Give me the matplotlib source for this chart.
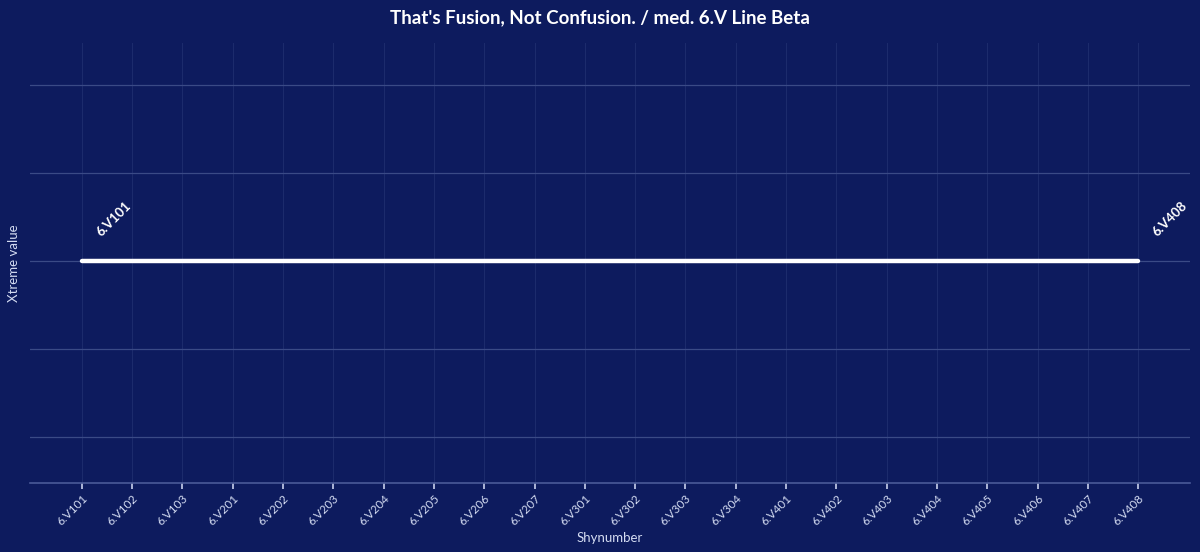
import matplotlib
matplotlib.use("Agg")
import matplotlib.pyplot as plt

categories = ["6.V101", "6.V102", "6.V103", "6.V201", "6.V202", "6.V203", "6.V204",
              "6.V205", "6.V206", "6.V207", "6.V301", "6.V302", "6.V303", "6.V304",
              "6.V401", "6.V402", "6.V403", "6.V404", "6.V405", "6.V406", "6.V407",
              "6.V408"]
values = [0.0] * len(categories)
y_ticks = [-2, -1, 0, 1, 2]

BG = "#0d1b5e"
plt.rcParams['font.family'] = ['Lato', 'DejaVu Sans']

fig = plt.figure(figsize=(12, 5.52), dpi=100, facecolor=BG)
ax = fig.add_axes([0.025, 0.125, 0.9667, 0.797])
ax.set_facecolor(BG)

x = list(range(len(categories)))
ax.plot(x, values, color="white", lw=3.2, solid_capstyle="round", zorder=5)

for i in (0, len(categories) - 1):
    ax.annotate(categories[i], (x[i], values[i]), xytext=(15, 16), textcoords="offset points",
                rotation=45, rotation_mode="anchor", ha="left", va="bottom",
                color="white", fontsize=9.5, fontweight="bold", zorder=6)

ax.set_xlim(-1.03, len(categories) - 1 + 1.03)
ax.set_ylim(-2.523, 2.477)
ax.set_yticks(y_ticks)
ax.set_yticklabels([])
ax.tick_params(axis="y", length=0)
ax.set_xticks(x)
ax.set_xticklabels(categories, rotation=45, ha="right", rotation_mode="anchor",
                   color="#d4dcf2", fontsize=8.5)
ax.tick_params(axis="x", length=4, width=1.2, color="#c8d0ec", pad=3)

ax.grid(axis="y", color="#3a4a86", lw=0.9)
ax.grid(axis="x", color="#1c2b6c", lw=0.8)
ax.set_axisbelow(True)

for s in ("top", "right", "left"):
    ax.spines[s].set_visible(False)
ax.spines["bottom"].set_color("#4a5a98")
ax.spines["bottom"].set_linewidth(1.2)

ax.set_xlabel("Shynumber", color="#d4dcf2", fontsize=9.5, labelpad=3)
ax.set_ylabel("Xtreme value", color="#d4dcf2", fontsize=9.5, labelpad=4)

fig.text(0.5, 0.968, "That's Fusion, Not Confusion. / med. 6.V Line Beta",
         ha="center", va="center", color="white", fontsize=13.5, fontweight="bold")

fig.savefig("out.png", dpi=100, facecolor=BG)
